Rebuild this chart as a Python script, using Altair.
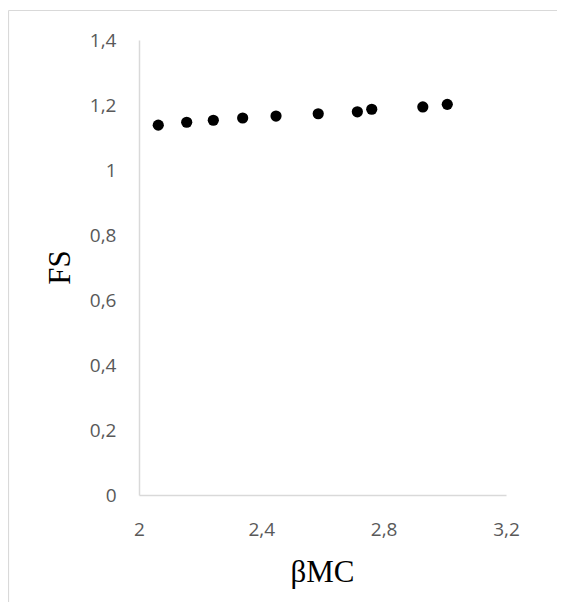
import altair as alt
import pandas as pd

# Data
beta_mc = [2.063, 2.156, 2.243, 2.339, 2.448, 2.586, 2.714, 2.761, 2.928, 3.008]
fs_values = [1.138, 1.147, 1.153, 1.160, 1.166, 1.173, 1.179, 1.187, 1.194, 1.202]

x_ticks = [2, 2.4, 2.8, 3.2]
y_ticks = [0, 0.2, 0.4, 0.6, 0.8, 1.0, 1.2, 1.4]

df = pd.DataFrame({"beta": beta_mc, "fs": fs_values})

label_expr = "replace(format(datum.value, '~g'), '.', ',')"

points = alt.Chart(df).mark_circle(size=125, color="#000000", opacity=1).encode(
    x=alt.X(
        "beta:Q",
        scale=alt.Scale(domain=[2, 3.2], nice=False, zero=False),
        axis=alt.Axis(
            values=x_ticks,
            labelExpr=label_expr,
            title="βMC",
            grid=False,
            ticks=False,
            domainColor="#d9d9d9",
            domainWidth=1.5,
            labelFont="Open Sans",
            labelFontSize=19,
            labelColor="#595959",
            labelPadding=25,
            labelFlush=False,
            titleFont="Liberation Serif",
            titleFontSize=31,
            titleFontWeight="normal",
            titleColor="#000000",
            titleBaseline="alphabetic",
            titleX=183,
            titleY=86,
        ),
    ),
    y=alt.Y(
        "fs:Q",
        scale=alt.Scale(domain=[0, 1.4], nice=False),
        axis=alt.Axis(
            values=y_ticks,
            labelExpr=label_expr,
            title="FS",
            grid=False,
            ticks=False,
            domainColor="#d9d9d9",
            domainWidth=1.5,
            labelFont="Open Sans",
            labelFontSize=19,
            labelColor="#595959",
            labelPadding=23,
            labelFlush=False,
            titleFont="Liberation Serif",
            titleFontSize=31,
            titleFontWeight="normal",
            titleColor="#000000",
            titleBaseline="middle",
            titleAngle=270,
            titleX=-79,
            titleY=227,
        ),
    ),
)

frame = pd.DataFrame({"k": [0]})
left_border = alt.Chart(frame).mark_rule(color="#d9d9d9", strokeWidth=1.2).encode(
    x=alt.value(-130.5), y=alt.value(-29.5), y2=alt.value(800)
)
top_border = alt.Chart(frame).mark_rule(color="#d9d9d9", strokeWidth=1.2).encode(
    x=alt.value(-130.5), x2=alt.value(800), y=alt.value(-29.5)
)

chart = alt.layer(left_border, top_border, points).properties(
    width=367,
    height=455,
    padding={"left": 131, "top": 32, "right": 51, "bottom": 107},
    autosize=alt.AutoSizeParams(type="none"),
).configure(
    background="#ffffff",
    view=alt.ViewConfig(stroke="transparent", strokeWidth=0),
)

chart.save("out.html", embed_options={"renderer": "svg", "actions": False})
